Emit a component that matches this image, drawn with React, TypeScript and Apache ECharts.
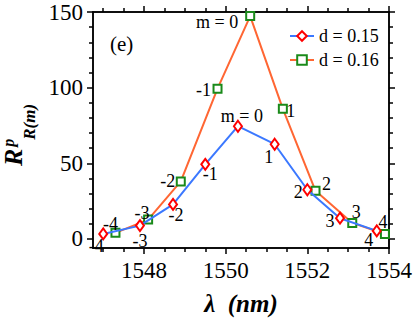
import React, { useEffect, useRef } from 'react';
import * as echarts from 'echarts';

// ---- data ----
const mLabels = ['-4', '-3', '-2', '-1', 'm = 0', '1', '2', '3', '4'];
const lambda015 = [1547.0, 1547.9, 1548.71, 1549.5, 1550.3, 1551.2, 1552.0, 1552.8, 1553.7];
const r015 = [3.3, 8.8, 22.8, 49.3, 74.5, 62.6, 32.5, 13.7, 5.3];
const lambda016 = [1547.3, 1548.1, 1548.9, 1549.8, 1550.6, 1551.4, 1552.2, 1553.1, 1553.9];
const r016 = [4.0, 12.8, 38.0, 99.3, 147.3, 86.0, 31.8, 10.6, 3.3];
const xTickLabels = [1548, 1550, 1552, 1554];
const yTickLabels = [0, 50, 100, 150];
const seriesNames = ['d = 0.15', 'd = 0.16'];

// ---- label placement (pixels) ----
const off015 = [[-7, 12], [0, 15], [3, 11], [5, 10], [4, -10], [-6, 13], [-9, 2], [-10, 3], [-8, 9]];
const off016 = [[-5, -9], [-6, -7], [-13, 0], [-14, 1], [-33, 6], [8, 2], [11, -7], [4, -11], [-2, -12]];

const FONT = "'Liberation Serif', 'Times New Roman', serif";
const xMin = 1546.75, xMax = 1554;
const yMin = -6, yMax = 150;

const xMinor: number[] = [];
for (let v = 1547; v < 1554; v += 0.5) if (!xTickLabels.includes(v)) xMinor.push(v);
const yMinor: number[] = [];
for (let v = 10; v < 150; v += 10) if (!yTickLabels.includes(v)) yMinor.push(v);

const lineSty = { color: '#000', width: 1.5 };

function xAxis(position: string, ticks: number[], len: number, labels: boolean) {
  return {
    type: 'value', position, min: xMin, max: xMax,
    axisLine: { show: true, onZero: false, lineStyle: lineSty },
    axisTick: { show: true, inside: false, length: len, customValues: ticks, lineStyle: lineSty },
    axisLabel: labels
      ? {
          show: true, customValues: xTickLabels, color: '#000', fontFamily: FONT, fontSize: 23, margin: 11,
          formatter: (v: number) => String(v),
        }
      : { show: false },
    splitLine: { show: false },
  };
}
function yAxis(position: string, ticks: number[], len: number, labels: boolean) {
  const base: any = {
    type: 'value', position, min: yMin, max: yMax,
    axisLine: { show: true, onZero: false, lineStyle: lineSty },
    axisTick: { show: true, inside: false, length: len, customValues: ticks, lineStyle: lineSty },
    axisLabel: labels
      ? {
          show: true, customValues: yTickLabels, color: '#000', fontFamily: FONT, fontSize: 23, margin: 10,
          formatter: (v: number) => String(v),
        }
      : { show: false },
    splitLine: { show: false },
  };
  if (labels) {
    const bi = { fontFamily: FONT, fontWeight: 'bold', fontStyle: 'italic', color: '#000' };
    base.name = '{R|R}{p|p}{s|R(m)}';
    base.nameLocation = 'middle';
    base.nameRotate = 90;
    base.nameGap = 55;
    base.nameTextStyle = {
      rich: {
        R: { ...bi, fontSize: 26, lineHeight: 44, verticalAlign: 'middle', padding: [0, 3, 0, 0] },
        p: { ...bi, fontSize: 16, height: 34, width: 6, verticalAlign: 'top' },
        s: { ...bi, fontSize: 17, height: 12, verticalAlign: 'bottom', padding: [0, 10, 0, 0] },
      },
    };
  }
  return base;
}

function buildData(xs: number[], ys: number[], offs: number[][]) {
  return xs.map((x, i) => ({
    value: [x, ys[i]],
    label: { offset: offs[i], formatter: mLabels[i] },
  }));
}

export default function App() {
  const ref = useRef<HTMLDivElement>(null);
  useEffect(() => {
    if (!ref.current) return;
    const chart = echarts.init(ref.current, null, { renderer: 'svg' });
    const labelBase = {
      show: true, position: 'inside', color: '#000', fontFamily: FONT, fontSize: 18,
    };
    const bi = { fontFamily: FONT, fontWeight: 'bold', fontStyle: 'italic', fill: '#000', verticalAlign: 'middle' };
    chart.setOption({
      animation: false,
      backgroundColor: '#fff',
      grid: { left: 93, right: 26, top: 12, bottom: 75, containLabel: false, outerBoundsMode: 'none' },
      xAxis: [
        xAxis('bottom', xTickLabels, 6, true),
        xAxis('bottom', xMinor, 4, false),
        xAxis('top', xTickLabels, 6, false),
        xAxis('top', xMinor, 4, false),
      ],
      yAxis: [
        yAxis('left', yTickLabels, 6, true),
        yAxis('left', yMinor, 4, false),
        yAxis('right', yTickLabels, 6, false),
        yAxis('right', yMinor, 4, false),
      ],
      legend: {
        orient: 'vertical', left: 284, top: 22, itemWidth: 24, itemHeight: 12, itemGap: 6,
        data: seriesNames,
        textStyle: { fontFamily: FONT, fontSize: 18, color: '#000' },
      },
      series: [
        {
          name: seriesNames[1], type: 'line', xAxisIndex: 0, yAxisIndex: 0,
          data: buildData(lambda016, r016, off016),
          symbol: 'rect', symbolSize: 8,
          lineStyle: { color: '#ff6633', width: 2 },
          itemStyle: { color: '#fff', borderColor: '#1a8a1a', borderWidth: 2 },
          label: labelBase, z: 2,
        },
        {
          name: seriesNames[0], type: 'line', xAxisIndex: 0, yAxisIndex: 0,
          data: buildData(lambda015, r015, off015),
          symbol: 'diamond', symbolSize: [8, 11],
          lineStyle: { color: '#3b78ff', width: 2 },
          itemStyle: { color: '#fff', borderColor: '#ff0000', borderWidth: 2 },
          label: labelBase, z: 3,
        },
      ],
      color: ['#3b78ff', '#ff6633'],
      graphic: [
        {
          type: 'text', left: 110, top: 33,
          style: { text: '(e)', fontFamily: FONT, fontSize: 21, fill: '#000' },
        },
        {
          type: 'text', x: 241, y: 303,
          style: { text: 'λ\u00a0 (nm)', fontSize: 25, align: 'center', ...bi },
        },
      ],
    });
    return () => chart.dispose();
  }, []);
  return <div ref={ref} style={{ position: 'fixed', left: 0, top: 0, width: 415, height: 323 }} />;
}
